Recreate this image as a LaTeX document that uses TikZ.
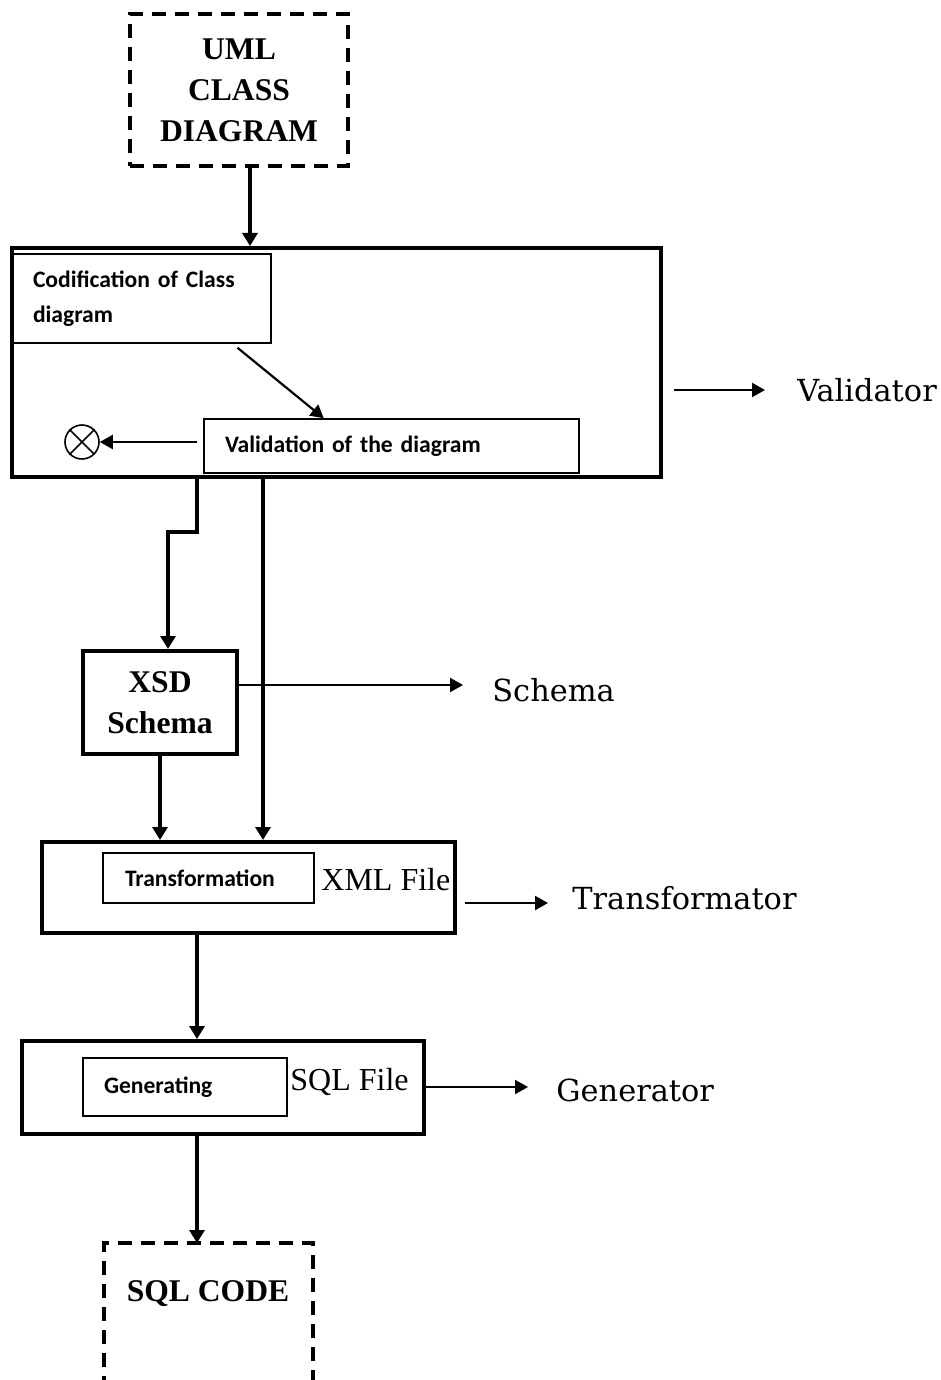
\documentclass[tikz,border=0pt]{standalone}
\usepackage{fontspec}
\setmainfont{Liberation Serif}
\newfontfamily\calfont{Carlito}
\newfontfamily\dvsfont{DejaVu Serif}
\usetikzlibrary{arrows.meta,calc}
\begin{document}
\begin{tikzpicture}[x=0.5pt,y=-0.5pt,
  mainarr/.style={line width=1.6pt,-{Triangle[length=6.5pt,width=7.5pt]}},
  thinarr/.style={line width=1.1pt,-{Triangle[length=6.5pt,width=7pt]}},
  bigbox/.style={draw,line width=2pt,inner sep=0pt},
  dashbox/.style={draw,line width=2pt,dash pattern=on 7pt off 4.5pt},
  smallbox/.style={draw,line width=0.8pt,inner ysep=0pt,align=left,font=\calfont\bfseries\fontsize{11.8}{17.5}\selectfont},
  titletext/.style={font=\bfseries\fontsize{15.8}{20.5}\selectfont,align=center},
  filetext/.style={font=\fontsize{16}{19}\selectfont,inner sep=0pt,anchor=west},
  roletext/.style={font=\dvsfont\fontsize{15.2}{18}\selectfont,inner sep=0pt,anchor=west},
]
\useasboundingbox (0,0) rectangle (941,1380);

% nodes
\node[dashbox,titletext,minimum width=109pt,minimum height=76pt] (uml) at (239,90) {UML\\CLASS\\DIAGRAM};
\node[bigbox,minimum width=324.5pt,minimum height=114.5pt] (valbox) at (336.5,362.5) {};
\node[smallbox,text width=109pt,inner xsep=10pt,minimum height=44.5pt] (codif) at (142,298.5) {Codification of Class\\diagram};
\node[smallbox,text width=166.5pt,inner xsep=10.5pt,minimum height=27pt] (valid) at (391.5,446) {Validation of the diagram};
\node[draw,circle,line width=0.8pt,minimum size=17pt,inner sep=0pt] (circ) at (82,442) {};
\draw[line width=0.8pt] (circ.45) -- (circ.225) (circ.135) -- (circ.315);
\node[roletext] (validator) at (797,390) {Validator};

\node[bigbox,titletext,minimum width=77pt,minimum height=51.5pt] (xsd) at (160,702.5) {XSD\\Schema};
\node[roletext] (schema) at (492,690) {Schema};

\node[bigbox,minimum width=206.5pt,minimum height=45.5pt] (trans) at (248.5,887.5) {};
\node[smallbox,text width=83.5pt,inner xsep=11pt,minimum height=25pt] (transin) at (208.5,878) {Transformation};
\node[filetext] (xml) at (321,880) {XML File};
\node[roletext] (transformator) at (572,898) {Transformator};

\node[bigbox,minimum width=201pt,minimum height=46.5pt] (gen) at (223,1087.5) {};
\node[smallbox,text width=81pt,inner xsep=10.5pt,minimum height=29pt] (genin) at (185,1087) {Generating};
\node[filetext] (sqlf) at (290,1082) {SQL File};
\node[roletext] (generator) at (556,1090) {Generator};

\node[titletext,inner sep=0pt] (sqlcode) at (208,1294) {SQL CODE};
\draw[line width=2pt,dash pattern=on 7pt off 4.5pt] (104,1390) -- (104,1243) -- (313,1243) -- (313,1390);

% coordinates
\coordinate (xa) at (250,0);
\coordinate (xl) at (197,0);
\coordinate (jog) at (168,532);
\coordinate (xr) at (263,0);
\coordinate (xg) at (197,0);
\coordinate (sa) at (463,685);
\coordinate (ta) at (548,903);
\coordinate (ga) at (528,1087);
\coordinate (sqltop) at (197,1243);

% connectors
\draw[mainarr] (uml.south -| xa) -- (valbox.north -| xa);
\draw[thinarr] ([yshift=-2pt]$(codif.south west)!0.868!(codif.south east)$) -- ($(valid.north west)!0.32!(valid.north east)$);
\draw[thinarr,line width=1.2pt,shorten <=3pt] (valid.west |- circ.east) -- (circ.east);
\draw[thinarr,shorten <=5.5pt,shorten >=16pt] (valbox.east |- validator.west) -- (validator.west);

\draw[mainarr] (valbox.south -| xl) -- (xl |- jog) -- (jog) -- (xsd.north -| jog);
\draw[mainarr] (valbox.south -| xr) -- (trans.north -| xr);
\draw[thinarr] (xsd.east |- sa) -- (sa);
\draw[mainarr] (xsd.south) -- (trans.north -| xsd.south);

\draw[thinarr,shorten <=4pt] (trans.east |- ta) -- (ta);
\draw[mainarr] (trans.south -| xg) -- (gen.north -| xg);
\draw[thinarr] (gen.east |- ga) -- (ga);
\draw[mainarr] (gen.south -| xg) -- (sqltop);
\end{tikzpicture}
\end{document}
